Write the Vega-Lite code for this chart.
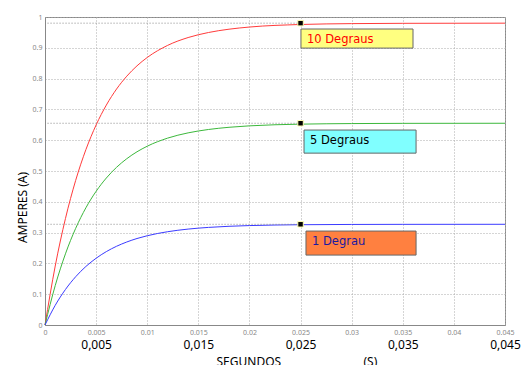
{
  "$schema": "https://vega.github.io/schema/vega-lite/v6.json",
  "width": 460,
  "height": 308,
  "autosize": {"type": "none"},
  "padding": {"left": 45, "top": 17, "right": 16, "bottom": 40},
  "background": "white",
  "config": {"view": {"stroke": "#888", "strokeWidth": 1}, "font": "Noto Sans"},
  "datasets": {
    "curves": [
      {"s": "10 Degraus", "t": 0, "a": 0},
      {"s": "10 Degraus", "t": 0.001, "a": 0.1915},
      {"s": "10 Degraus", "t": 0.002, "a": 0.3455},
      {"s": "10 Degraus", "t": 0.003, "a": 0.4695},
      {"s": "10 Degraus", "t": 0.004, "a": 0.5693},
      {"s": "10 Degraus", "t": 0.005, "a": 0.6495},
      {"s": "10 Degraus", "t": 0.006, "a": 0.714},
      {"s": "10 Degraus", "t": 0.007, "a": 0.7661},
      {"s": "10 Degraus", "t": 0.008, "a": 0.8078},
      {"s": "10 Degraus", "t": 0.009, "a": 0.8415},
      {"s": "10 Degraus", "t": 0.01, "a": 0.8686},
      {"s": "10 Degraus", "t": 0.012, "a": 0.9079},
      {"s": "10 Degraus", "t": 0.014, "a": 0.9333},
      {"s": "10 Degraus", "t": 0.016, "a": 0.9497},
      {"s": "10 Degraus", "t": 0.018, "a": 0.9604},
      {"s": "10 Degraus", "t": 0.02, "a": 0.9674},
      {"s": "10 Degraus", "t": 0.025, "a": 0.9757},
      {"s": "10 Degraus", "t": 0.03, "a": 0.9785},
      {"s": "10 Degraus", "t": 0.035, "a": 0.9795},
      {"s": "10 Degraus", "t": 0.045, "a": 0.98},
      {"s": "5 Degraus", "t": 0, "a": 0},
      {"s": "5 Degraus", "t": 0.001, "a": 0.128},
      {"s": "5 Degraus", "t": 0.002, "a": 0.231},
      {"s": "5 Degraus", "t": 0.003, "a": 0.3138},
      {"s": "5 Degraus", "t": 0.004, "a": 0.3805},
      {"s": "5 Degraus", "t": 0.005, "a": 0.4341},
      {"s": "5 Degraus", "t": 0.006, "a": 0.4772},
      {"s": "5 Degraus", "t": 0.007, "a": 0.512},
      {"s": "5 Degraus", "t": 0.008, "a": 0.5399},
      {"s": "5 Degraus", "t": 0.009, "a": 0.5624},
      {"s": "5 Degraus", "t": 0.01, "a": 0.5805},
      {"s": "5 Degraus", "t": 0.012, "a": 0.6068},
      {"s": "5 Degraus", "t": 0.014, "a": 0.6238},
      {"s": "5 Degraus", "t": 0.016, "a": 0.6348},
      {"s": "5 Degraus", "t": 0.018, "a": 0.6419},
      {"s": "5 Degraus", "t": 0.02, "a": 0.6466},
      {"s": "5 Degraus", "t": 0.025, "a": 0.6521},
      {"s": "5 Degraus", "t": 0.03, "a": 0.654},
      {"s": "5 Degraus", "t": 0.035, "a": 0.6547},
      {"s": "5 Degraus", "t": 0.045, "a": 0.655},
      {"s": "1 Degrau", "t": 0, "a": 0},
      {"s": "1 Degrau", "t": 0.001, "a": 0.0639},
      {"s": "1 Degrau", "t": 0.002, "a": 0.1153},
      {"s": "1 Degrau", "t": 0.003, "a": 0.1567},
      {"s": "1 Degrau", "t": 0.004, "a": 0.19},
      {"s": "1 Degrau", "t": 0.005, "a": 0.2167},
      {"s": "1 Degrau", "t": 0.006, "a": 0.2383},
      {"s": "1 Degrau", "t": 0.007, "a": 0.2556},
      {"s": "1 Degrau", "t": 0.008, "a": 0.2695},
      {"s": "1 Degrau", "t": 0.009, "a": 0.2808},
      {"s": "1 Degrau", "t": 0.01, "a": 0.2898},
      {"s": "1 Degrau", "t": 0.012, "a": 0.3029},
      {"s": "1 Degrau", "t": 0.014, "a": 0.3114},
      {"s": "1 Degrau", "t": 0.016, "a": 0.3169},
      {"s": "1 Degrau", "t": 0.018, "a": 0.3205},
      {"s": "1 Degrau", "t": 0.02, "a": 0.3228},
      {"s": "1 Degrau", "t": 0.025, "a": 0.3256},
      {"s": "1 Degrau", "t": 0.03, "a": 0.3265},
      {"s": "1 Degrau", "t": 0.035, "a": 0.3268},
      {"s": "1 Degrau", "t": 0.045, "a": 0.327}
    ],
    "pts": [
      {"s": "10 Degraus", "t": 0.025, "a": 0.98},
      {"s": "5 Degraus", "t": 0.025, "a": 0.655},
      {"s": "1 Degrau", "t": 0.025, "a": 0.327}
    ],
    "boxes": [
      {"label": "10 Degraus", "x1": 0.02504, "x2": 0.036, "y1": 0.961, "y2": 0.899},
      {"label": "5 Degraus", "x1": 0.02534, "x2": 0.0363, "y1": 0.633, "y2": 0.558},
      {"label": "1 Degrau", "x1": 0.02553, "x2": 0.0363, "y1": 0.305, "y2": 0.227}
    ]
  },
  "encoding": {
    "y": {
      "type": "quantitative",
      "scale": {"domain": [0, 1], "nice": false},
      "axis": {
        "values": [0, 0.1, 0.2, 0.3, 0.4, 0.5, 0.6, 0.7, 0.8, 0.9, 1],
        "format": "~g", "labelFontSize": 7, "labelColor": "#888", "labelFlush": false, "labelOverlap": false,
        "labelPadding": 3, "ticks": false,
        "grid": true, "gridDash": [1, 2], "gridColor": "#aaa",
        "domainColor": "#888",
        "title": "AMPERES (A)", "titleX": -23, "titleY": 190, "titleAlign": "center", "titleBaseline": "middle",
        "titleFontSize": 12, "titleFontWeight": "normal", "titleColor": "#000"
      }
    }
  },
  "layer": [
    {
      "data": {"name": "curves"},
      "mark": {"type": "line", "strokeWidth": 1, "interpolate": "monotone"},
      "encoding": {
        "x": {
          "field": "t", "type": "quantitative",
          "scale": {"domain": [0, 0.045], "nice": false, "zero": false},
          "axis": {
            "values": [0, 0.005, 0.01, 0.015, 0.02, 0.025, 0.03, 0.035, 0.04, 0.045],
            "format": "~g", "labelFontSize": 7, "labelColor": "#888", "labelFlush": false, "labelOverlap": false,
            "labelPadding": 3, "ticks": false,
            "grid": true, "gridDash": [1, 2], "gridColor": "#aaa",
            "domainColor": "#888",
            "title": "(S)", "titleX": 318, "titleY": 31, "titleAlign": "left", "titleBaseline": "top",
            "titleFontSize": 12, "titleFontWeight": "normal", "titleColor": "#000"
          }
        },
        "y": {"field": "a"},
        "stroke": {
          "field": "s", "type": "nominal",
          "scale": {"domain": ["10 Degraus", "5 Degraus", "1 Degrau"], "range": ["#ff3b3b", "#3cb83c", "#3b3bff"]},
          "legend": null
        }
      }
    },
    {
      "data": {"name": "pts"},
      "mark": {"type": "rule", "color": "#888", "strokeDash": [1, 2], "strokeWidth": 1},
      "encoding": {
        "x": {"field": "t", "type": "quantitative", "scale": {"domain": [0, 0.045], "nice": false, "zero": false}, "axis": null},
        "x2": {"datum": 0},
        "y": {"field": "a"}
      }
    },
    {
      "data": {"name": "boxes"},
      "mark": {"type": "rect", "stroke": "#666", "strokeWidth": 1},
      "encoding": {
        "x": {"field": "x1", "type": "quantitative", "scale": {"domain": [0, 0.045], "nice": false, "zero": false}, "axis": null},
        "x2": {"field": "x2"},
        "y": {"field": "y1"},
        "y2": {"field": "y2"},
        "fill": {
          "field": "label", "type": "nominal",
          "scale": {"domain": ["10 Degraus", "5 Degraus", "1 Degrau"], "range": ["#ffff80", "#80ffff", "#ff8040"]},
          "legend": null
        }
      }
    },
    {
      "data": {"name": "boxes"},
      "mark": {"type": "text", "align": "left", "baseline": "middle", "dx": 6, "dy": 11, "fontSize": 11.5, "font": "DejaVu Sans"},
      "encoding": {
        "x": {"field": "x1", "type": "quantitative", "scale": {"domain": [0, 0.045], "nice": false, "zero": false}, "axis": null},
        "y": {"field": "y1"},
        "text": {"field": "label"},
        "color": {
          "field": "label", "type": "nominal",
          "scale": {"domain": ["10 Degraus", "5 Degraus", "1 Degrau"], "range": ["#ff0000", "#000000", "#1a1aa0"]},
          "legend": null
        }
      }
    },
    {
      "data": {"name": "pts"},
      "mark": {"type": "square", "filled": true, "color": "#000", "size": 30, "stroke": "#ffffb0", "strokeWidth": 1, "opacity": 1},
      "encoding": {
        "x": {
          "field": "t", "type": "quantitative",
          "scale": {"domain": [0, 0.045], "nice": false, "zero": false},
          "axis": {
            "orient": "bottom",
            "values": [0.005, 0.015, 0.025, 0.035, 0.045],
            "labelExpr": "replace(format(datum.value, '.3f'), '.', ',')",
            "labelFontSize": 12, "labelColor": "#000", "labelFlush": false, "labelOverlap": false,
            "labelPadding": 14, "ticks": false, "domain": false, "grid": false,
            "title": "SEGUNDOS", "titleX": 171, "titleY": 31, "titleAlign": "left", "titleBaseline": "top",
            "titleFontSize": 12, "titleFontWeight": "normal", "titleColor": "#000"
          }
        },
        "y": {"field": "a"}
      }
    }
  ],
  "resolve": {"axis": {"x": "independent"}}
}
